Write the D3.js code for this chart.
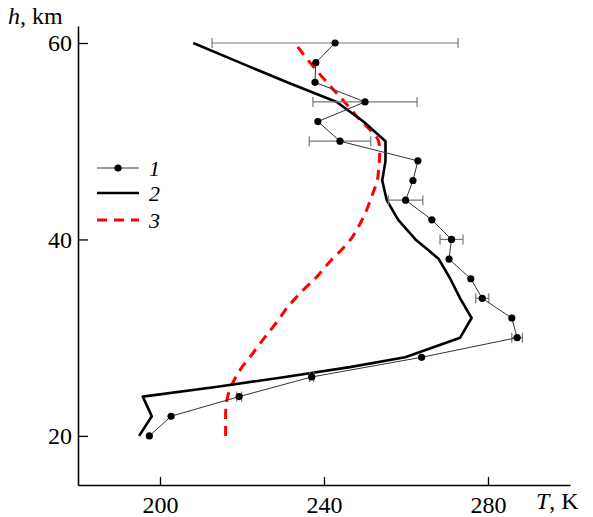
<!DOCTYPE html>
<html>
<head>
<meta charset="utf-8">
<script src="https://cdn.jsdelivr.net/npm/d3@7"></script>
<style>
  body { margin: 0; background: #fff; }
  svg { display: block; }
  .tick text { font-family: "Liberation Serif", serif; font-size: 24px; fill: #000; }
</style>
</head>
<body>
<div id="chart"></div>
<script>
// series 1: measured points with errors
const obsH = [20, 22, 24, 26, 28, 30, 32, 34, 36, 38, 40, 42, 44, 46, 48, 50, 52, 54, 56, 58, 60];
const obsT = [197.4, 202.7, 219.3, 237, 263.8, 287.1, 285.8, 278.6, 275.8, 270.5, 271.1, 266.3, 259.9, 261.7, 262.9, 243.9, 238.5, 250, 237.8, 238, 242.7];
const obsErr = [0, 0, 0.6, 0.5, 0, 1.3, 0, 1.6, 0, 0, 2.8, 0, 4.2, 0, 0, 7.5, 0, 12.7, 0, 0, 30];

// series 2: solid black
const modH = [20, 22, 24, 25, 26, 27, 28, 30, 32, 34, 36, 38, 39, 40, 42, 44, 46, 48, 50, 52, 54, 56, 58, 60];
const modT = [194.9, 198, 195.8, 214, 230.5, 246.3, 259.8, 273.2, 276, 273.2, 270.8, 268, 265.2, 262.3, 258.1, 255.3, 254.2, 255, 255, 249.6, 243.1, 231, 219.5, 208.1];

// series 3: red dashed
const refH = [20, 22, 23, 24, 25, 26, 27, 28, 29, 30, 31, 32, 33, 34, 35, 36, 37, 38, 39, 40, 41, 42, 43, 44, 45, 46, 47, 48, 49, 50, 51, 52, 54, 56, 58, 60];
const refT = [216, 216, 216.1, 216.5, 217.3, 218.5, 220, 221.9, 223.7, 225.5, 227.4, 229.2, 230.9, 233, 235.3, 237.8, 239.9, 242, 244.4, 246.5, 248, 249.3, 250.4, 251.3, 252.2, 253, 253.3, 253.5, 253.6, 253.3, 251.6, 249.2, 245, 240.7, 236.6, 232.9];

const xTicks = [200, 240, 280];
const yTicks = [20, 40, 60];
const legendLabels = ["1", "2", "3"];

const width = 593, height = 517;

const svg = d3.select("#chart").append("svg")
    .attr("width", width)
    .attr("height", height);

const x = d3.scaleLinear().domain([180, 300]).range([78, 570]);
const y = d3.scaleLinear().domain([15, 61.73]).range([485, 26]);

// axes
const xAxis = svg.append("g")
    .attr("transform", "translate(0," + y(15) + ")")
    .call(d3.axisBottom(x).tickValues(xTicks).tickSizeInner(-8).tickSizeOuter(0).tickPadding(14));
const yAxis = svg.append("g")
    .attr("transform", "translate(" + x(180) + ",0)")
    .call(d3.axisLeft(y).tickValues(yTicks).tickSizeInner(-10).tickSizeOuter(0).tickPadding(6));

[xAxis, yAxis].forEach(g => {
    g.select(".domain").attr("stroke", "#000").attr("stroke-width", 1.6);
    g.selectAll(".tick line").attr("stroke", "#000").attr("stroke-width", 1.3);
});
xAxis.selectAll(".tick text").attr("dy", "0.6em");

// axis titles
const titleFont = '"Liberation Serif", serif';
const hTitle = svg.append("text")
    .attr("x", 8).attr("y", 24)
    .style("font-family", titleFont).style("font-size", "24px");
hTitle.append("tspan").style("font-style", "italic").text("h");
hTitle.append("tspan").text(", km");

const tTitle = svg.append("text")
    .attr("x", 536).attr("y", 509)
    .style("font-family", titleFont).style("font-size", "24px");
tTitle.append("tspan").style("font-style", "italic").text("T");
tTitle.append("tspan").text(", K");

// series 3 red dashed
const ref = refH.map((h, i) => ({ h, t: refT[i] }));
svg.append("path")
    .datum(ref)
    .attr("fill", "none")
    .attr("stroke", "#ff0000")
    .attr("stroke-width", 3)
    .attr("stroke-dasharray", "10,7")
    .attr("d", d3.line().x(d => x(d.t)).y(d => y(d.h)).curve(d3.curveMonotoneY));

// series 2 black solid
const mod = modH.map((h, i) => ({ h, t: modT[i] }));
svg.append("path")
    .datum(mod)
    .attr("fill", "none")
    .attr("stroke", "#000")
    .attr("stroke-width", 2.6)
    .attr("stroke-linejoin", "round")
    .attr("d", d3.line().x(d => x(d.t)).y(d => y(d.h)));

// series 1 error bars
const obs = obsH.map((h, i) => ({ h, t: obsT[i], e: obsErr[i] }));
const errs = svg.append("g")
    .selectAll("g")
    .data(obs.filter(d => d.e > 0))
    .enter()
    .append("g")
    .attr("stroke", "#777")
    .attr("stroke-width", 1.2);
errs.append("line")
    .attr("x1", d => x(d.t - d.e)).attr("x2", d => x(d.t + d.e))
    .attr("y1", d => y(d.h)).attr("y2", d => y(d.h));
errs.append("line")
    .attr("x1", d => x(d.t - d.e)).attr("x2", d => x(d.t - d.e))
    .attr("y1", d => y(d.h) - 5).attr("y2", d => y(d.h) + 5);
errs.append("line")
    .attr("x1", d => x(d.t + d.e)).attr("x2", d => x(d.t + d.e))
    .attr("y1", d => y(d.h) - 5).attr("y2", d => y(d.h) + 5);

svg.append("path")
    .datum(obs)
    .attr("fill", "none")
    .attr("stroke", "#333")
    .attr("stroke-width", 1)
    .attr("d", d3.line().x(d => x(d.t)).y(d => y(d.h)));

svg.append("g")
    .selectAll("circle")
    .data(obs)
    .enter()
    .append("circle")
    .attr("cx", d => x(d.t))
    .attr("cy", d => y(d.h))
    .attr("r", 3.6)
    .attr("fill", "#000");

// legend
const legend = svg.append("g");
const legY = [168, 193, 220];
legend.append("line")
    .attr("x1", 97).attr("x2", 139).attr("y1", legY[0]).attr("y2", legY[0])
    .attr("stroke", "#333").attr("stroke-width", 1);
legend.append("circle")
    .attr("cx", 118).attr("cy", legY[0]).attr("r", 3.6).attr("fill", "#000");
legend.append("line")
    .attr("x1", 97).attr("x2", 139).attr("y1", legY[1]).attr("y2", legY[1])
    .attr("stroke", "#000").attr("stroke-width", 2.6);
legend.append("line")
    .attr("x1", 97).attr("x2", 139).attr("y1", legY[2]).attr("y2", legY[2])
    .attr("stroke", "#ff0000").attr("stroke-width", 3).attr("stroke-dasharray", "10,7");

legend.selectAll("text")
    .data(legendLabels)
    .enter()
    .append("text")
    .attr("x", 149)
    .attr("y", (d, i) => legY[i] + 8)
    .style("font-family", titleFont)
    .style("font-style", "italic")
    .style("font-size", "22px")
    .text(d => d);
</script>
</body>
</html>
